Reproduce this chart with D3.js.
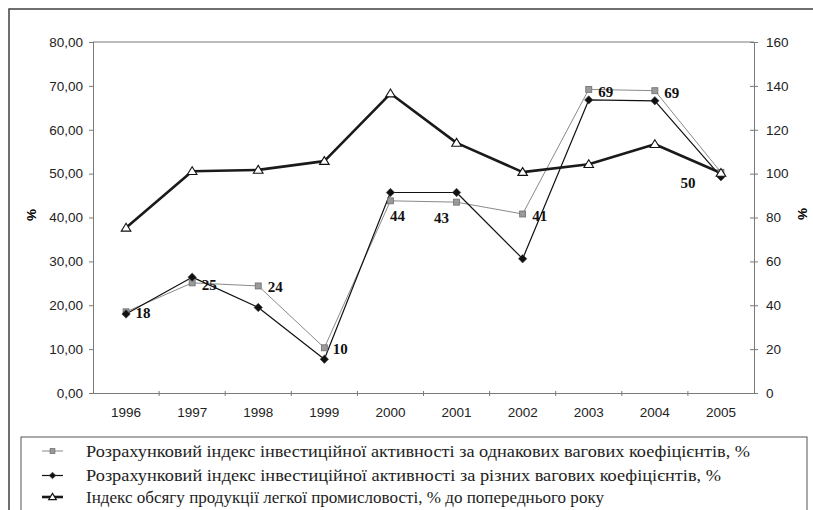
<!DOCTYPE html>
<html>
<head>
<meta charset="utf-8">
<script src="https://cdn.jsdelivr.net/npm/d3@7"></script>
<style>
  body { margin: 0; background: #fff; }
  svg { display: block; }
</style>
</head>
<body>
<svg width="813" height="510"></svg>
<script>
const years = ["1996", "1997", "1998", "1999", "2000", "2001", "2002", "2003", "2004", "2005"];
// left axis, %
const equalWeights = [18.5, 25.1, 24.4, 10.3, 43.8, 43.5, 40.8, 69.2, 68.9, 50.3];
const diffWeights = [18.0, 26.4, 19.5, 7.7, 45.7, 45.7, 30.6, 66.8, 66.6, 49.3];
// right axis, % to previous year
const lightIndustry = [75.3, 101.1, 101.7, 105.7, 136.5, 114.0, 100.7, 104.3, 113.4, 100.3];
const pointLabels = ["18", "25", "24", "10", "44", "43", "41", "69", "69", "50"];
const leftTicks = [0, 10, 20, 30, 40, 50, 60, 70, 80];
const rightTicks = [0, 20, 40, 60, 80, 100, 120, 140, 160];
const legendNames = [
  "Розрахунковий індекс інвестиційної активності за однакових вагових коефіцієнтів, %",
  "Розрахунковий індекс інвестиційної активності за різних вагових коефіцієнтів, %",
  "Індекс обсягу продукції легкої промисловості, % до попереднього року"
];

// where the value labels sit relative to their point (placed like the original)
const labelOffsets = [[17, 1], [17, 1.5], [17, 1], [16, 1], [7, 15], [-15, 16], [17, 2], [17, 2], [17, 2], [-33, 10]];

const plot = { left: 93, right: 754, top: 42, bottom: 393 };
const svg = d3.select("svg");
const axisGray = "#7a7a7a";
const sans = "'Liberation Sans', Arial, sans-serif";
const serif = "'Liberation Serif', 'Times New Roman', serif";

//outer frame, runs off the picture at right/bottom
svg.append("rect").attr("x", 9).attr("y", 9).attr("width", 830).attr("height", 530)
  .attr("fill", "none").attr("stroke", "#333").attr("stroke-width", 1.4);

const x = d3.scaleBand().domain(years).range([plot.left, plot.right]).paddingInner(0).paddingOuter(0);
const yL = d3.scaleLinear().domain([0, 80]).range([plot.bottom, plot.top]);
const yR = d3.scaleLinear().domain([0, 160]).range([plot.bottom, plot.top]);
const cx = d => x(d) + x.bandwidth() / 2;

//plot area top border
svg.append("line").attr("x1", plot.left).attr("x2", plot.right)
  .attr("y1", plot.top).attr("y2", plot.top)
  .attr("stroke", axisGray).attr("stroke-width", 1);

//left axis
const gL = svg.append("g").attr("transform", `translate(${plot.left},0)`)
  .call(d3.axisLeft(yL).tickValues(leftTicks).tickSize(4).tickPadding(6)
    .tickFormat(d => d3.format(".2f")(d).replace(".", ",")));
//right axis
const gR = svg.append("g").attr("transform", `translate(${plot.right},0)`)
  .call(d3.axisRight(yR).tickValues(rightTicks).tickSize(4).tickPadding(8));
//x axis, ticks at band edges
const gX = svg.append("g").attr("transform", `translate(0,${plot.bottom})`)
  .call(d3.axisBottom(x).tickSize(0).tickPadding(14));

[gL, gR, gX].forEach(g => {
  g.select(".domain").attr("stroke", axisGray);
  g.selectAll(".tick line").attr("stroke", axisGray);
  g.selectAll("text").attr("font-family", sans).attr("font-size", "13.5px").attr("fill", "#222");
});
gL.selectAll(".tick line").attr("x2", -4).attr("x1", 1);
gR.selectAll(".tick line").attr("x1", -4).attr("x2", 4);

const edges = years.slice(1).map(d => x(d));
svg.append("g").selectAll("line").data(edges).enter().append("line")
  .attr("x1", d => d).attr("x2", d => d)
  .attr("y1", plot.bottom - 2).attr("y2", plot.bottom + 3)
  .attr("stroke", axisGray);

//axis titles
svg.append("text").attr("transform", "translate(36,215) rotate(-90)")
  .attr("text-anchor", "middle").attr("font-family", sans).attr("font-weight", "bold")
  .attr("font-size", "13.5px").text("%");
svg.append("text").attr("transform", "translate(807,214) rotate(-90)")
  .attr("text-anchor", "middle").attr("font-family", sans).attr("font-weight", "bold")
  .attr("font-size", "13.5px").text("%");

//marker shapes
function drawMarker(g, type, px, py, k = 1) {
  if (type === "square") {
    g.append("rect").attr("x", px - 3 * k).attr("y", py - 3 * k).attr("width", 6 * k).attr("height", 6 * k)
      .attr("fill", "#9a9a9a").attr("stroke", "#6e6e6e").attr("stroke-width", 0.8);
  } else if (type === "diamond") {
    const r = 4.2 * k;
    g.append("path").attr("d", `M${px},${py - r}L${px + r},${py}L${px},${py + r}L${px - r},${py}Z`)
      .attr("fill", "#111").attr("stroke", "#444").attr("stroke-width", 0.6);
  } else {
    g.append("path").attr("d", `M${px},${py - 4.5 * k}L${px + 4.8 * k},${py + 3.3 * k}L${px - 4.8 * k},${py + 3.3 * k}Z`)
      .attr("fill", "#fff").attr("stroke", "#111").attr("stroke-width", 1.1);
  }
}

const series = [
  { values: equalWeights, y: yL, color: "#8a8a8a", width: 1, marker: "square" },
  { values: diffWeights, y: yL, color: "#111", width: 1.2, marker: "diamond" },
  { values: lightIndustry, y: yR, color: "#1a1a1a", width: 2.6, marker: "triangle" }
];

series.forEach(s => {
  const line = d3.line().x((d, i) => cx(years[i])).y(d => s.y(d));
  svg.append("path").datum(s.values).attr("d", line)
    .attr("fill", "none").attr("stroke", s.color).attr("stroke-width", s.width)
    .attr("stroke-linejoin", "round");
});
series.forEach(s => {
  const g = svg.append("g");
  s.values.forEach((v, i) => drawMarker(g, s.marker, cx(years[i]), s.y(v)));
});

//value labels for the equal-weights series
svg.append("g").selectAll("text").data(pointLabels).enter().append("text")
  .attr("x", (d, i) => cx(years[i]) + labelOffsets[i][0])
  .attr("y", (d, i) => yL(equalWeights[i]) + labelOffsets[i][1])
  .attr("text-anchor", "middle").attr("dy", "0.35em")
  .attr("font-family", serif).attr("font-weight", "bold").attr("font-size", "15px")
  .attr("fill", "#111")
  .text(d => d);

//legend box
svg.append("rect").attr("x", 21).attr("y", 437).attr("width", 786).attr("height", 100)
  .attr("fill", "#fff").attr("stroke", "#555").attr("stroke-width", 1);

const legendRows = [451, 475.5, 497];
const legendEnds = [750, 721, 604];
legendNames.forEach((name, i) => {
  const s = series[i];
  const ly = legendRows[i];
  svg.append("line").attr("x1", 42).attr("x2", 63).attr("y1", ly).attr("y2", ly)
    .attr("stroke", s.color).attr("stroke-width", s.width);
  drawMarker(svg.append("g"), s.marker, 52.5, ly, 0.8);
  svg.append("text").attr("x", 86).attr("y", ly).attr("dy", "0.35em")
    .attr("font-family", serif).attr("font-size", "16.5px").attr("fill", "#222")
    .attr("textLength", legendEnds[i] - 86).attr("lengthAdjust", "spacingAndGlyphs")
    .text(name);
});
</script>
</body>
</html>
